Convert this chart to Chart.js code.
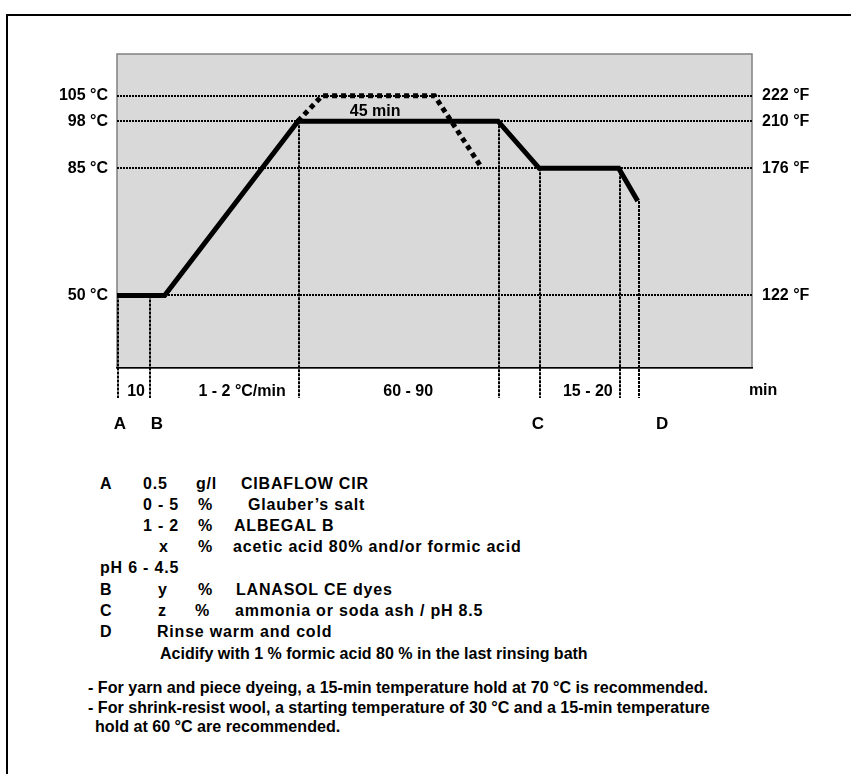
<!DOCTYPE html>
<html>
<head>
<meta charset="utf-8">
<script src="https://cdn.jsdelivr.net/npm/chart.js@4.4.0/dist/chart.umd.min.js"></script>
<style>
  html, body { margin: 0; padding: 0; background: #fff; }
  body { width: 851px; height: 774px; position: relative; overflow: hidden;
         font-family: "Liberation Sans", Arial, sans-serif; font-weight: bold; }
  #frame { position: absolute; left: 6px; top: 14px; width: 900px; height: 800px;
           border-top: 2px solid #000; border-left: 2px solid #000; }
  #chart { position: absolute; left: 0; top: 0; }
  .t { position: absolute; font-size: 16px; line-height: 20px; white-space: pre; color: #000; }
  .wide { letter-spacing: 0.8px; }
  .narrow { font-size: 16.1px; }
</style>
</head>
<body>
<div id="frame"></div>
<canvas id="chart" width="851" height="450"></canvas>
<div id="notes"></div>
<script>
// dyeing profile, time in chart units (about minutes), temperature in °C
const timeMain = [0, 15, 57, 120, 133, 158, 164];
const tempMain = [50, 50, 98, 98, 85, 85, 76];
// alternative hold at 105 °C
const timeAlt = [57, 64.6, 100, 115];
const tempAlt = [98, 105, 105, 85];

// temperature axis
const tempTicks = [50, 85, 98, 105];
const celsiusLabels = ['50 °C', '85 °C', '98 °C', '105 °C'];
const fahrenheitLabels = ['122 °F', '176 °F', '210 °F', '222 °F'];

// dotted step markers down to the time axis
const stepTimes = [0, 10, 57, 120, 133, 158, 164];
const stepTemps = [50, 50, 98, 98, 85, 85, 76];

// labels under the time axis
const segTimes = [6, 39.4, 91.7, 148.3];
const segLabels = ['10', '1 - 2 °C/min', '60 - 90', '15 - 20'];
const phaseTimes = [0.9, 12.6, 132.6, 171.7];
const phaseLabels = ['A', 'B', 'C', 'D'];

const holdLabel = '45 min';
const holdAt = [81.3, 100.6];
const unitLabel = 'min';
const unitAt = 203.5;

const FONT = 'Liberation Sans, Arial, sans-serif';

const backdrop = {
    id: 'backdrop',
    beforeDraw(chart) {
        const {ctx, chartArea: a} = chart;
        ctx.save();
        ctx.fillStyle = '#d9d9d9';
        ctx.fillRect(a.left, a.top, a.right - a.left, a.bottom - a.top);
        ctx.strokeStyle = '#808080';
        ctx.lineWidth = 1.5;
        ctx.strokeRect(a.left, a.top, a.right - a.left, a.bottom - a.top);
        ctx.restore();
    }
};

const markers = {
    id: 'markers',
    beforeDatasetsDraw(chart) {
        const {ctx, scales: {x, y}} = chart;
        ctx.save();
        ctx.strokeStyle = '#000';
        ctx.lineWidth = 2;
        ctx.setLineDash([3, 1]);
        stepTimes.forEach((t, i) => {
            const px = Math.round(x.getPixelForValue(t)) + 1;
            ctx.beginPath();
            ctx.moveTo(px, y.getPixelForValue(stepTemps[i]));
            ctx.lineTo(px, x.top + 30);
            ctx.stroke();
        });
        ctx.restore();
    },
    afterDatasetsDraw(chart) {
        const {ctx, scales: {x, y}} = chart;
        ctx.save();
        ctx.fillStyle = '#000';
        ctx.font = 'bold 16px ' + FONT;
        ctx.textAlign = 'center';
        ctx.textBaseline = 'middle';
        ctx.fillText(holdLabel, x.getPixelForValue(holdAt[0]), y.getPixelForValue(holdAt[1]));
        ctx.fillText(unitLabel, x.getPixelForValue(unitAt), x.top + 23);
        ctx.restore();
    }
};

const font16 = {family: FONT, weight: 'bold', size: 16};

new Chart(document.getElementById('chart'), {
    type: 'line',
    data: {
        datasets: [
            {
                data: timeMain.map((t, i) => ({x: t, y: tempMain[i]})),
                borderColor: '#000', borderWidth: 5, pointRadius: 0,
                borderJoinStyle: 'miter', borderCapStyle: 'butt', tension: 0
            },
            {
                data: timeAlt.map((t, i) => ({x: t, y: tempAlt[i]})),
                borderColor: '#000', borderWidth: 5, pointRadius: 0,
                borderDash: [5, 4], borderCapStyle: 'butt', tension: 0
            }
        ]
    },
    options: {
        responsive: false,
        animation: false,
        devicePixelRatio: 1,
        layout: { padding: { top: 54, left: 0, right: 0, bottom: 0 } },
        plugins: { legend: { display: false }, tooltip: { enabled: false } },
        scales: {
            x: {
                type: 'linear', position: 'bottom', min: 0, max: 200, weight: 0,
                grid: { display: false, drawTicks: false },
                border: { display: true, color: '#000', width: 1.5 },
                afterBuildTicks: s => { s.ticks = segTimes.map(v => ({value: v})); },
                afterFit: s => { s.height = 40; },
                ticks: { autoSkip: false, maxRotation: 0, padding: 14, color: '#000', font: font16,
                         callback: (v, i) => segLabels[i] }
            },
            x2: {
                type: 'linear', position: 'bottom', min: 0, max: 200, weight: 1,
                grid: { display: false, drawTicks: false },
                border: { display: false },
                afterBuildTicks: s => { s.ticks = phaseTimes.map(v => ({value: v})); },
                afterFit: s => { s.height = 42; },
                ticks: { autoSkip: false, maxRotation: 0, padding: 6, color: '#000',
                         font: {family: FONT, weight: 'bold', size: 17},
                         callback: (v, i) => phaseLabels[i] }
            },
            y: {
                type: 'linear', position: 'left', min: 30, max: 116.5,
                grid: { color: '#000', lineWidth: 2, drawTicks: false },
                border: { display: false, dash: [2, 1] },
                afterBuildTicks: s => { s.ticks = tempTicks.map(v => ({value: v})); },
                afterFit: s => { s.width = 117; },
                ticks: { padding: 9, color: '#000', font: font16,
                         callback: (v, i) => celsiusLabels[i] }
            },
            y2: {
                type: 'linear', position: 'right', min: 30, max: 116.5,
                grid: { display: false, drawTicks: false },
                border: { display: false },
                afterBuildTicks: s => { s.ticks = tempTicks.map(v => ({value: v})); },
                afterFit: s => { s.width = 99; },
                ticks: { padding: 10, color: '#000', font: font16,
                         callback: (v, i) => fahrenheitLabels[i] }
            }
        }
    },
    plugins: [backdrop, markers]
});

// recipe notes under the chart
const noteRows = [
    [485, [[100, 'A'], [143, '0.5'], [196, 'g/l'], [241, 'CIBAFLOW CIR']], 'wide'],
    [506, [[143, '0 - 5'], [198, '%'], [248, 'Glauber’s salt']], 'wide'],
    [527, [[143, '1 - 2'], [198, '%'], [234, 'ALBEGAL B']], 'wide'],
    [548, [[159, 'x'], [198, '%'], [233, 'acetic acid 80% and/or formic acid']], 'wide'],
    [569, [[100, 'pH 6 - 4.5']], 'wide'],
    [591, [[100, 'B'], [158, 'y'], [198, '%'], [236, 'LANASOL CE dyes']], 'wide'],
    [612, [[100, 'C'], [158, 'z'], [195, '%'], [235, 'ammonia or soda ash / pH 8.5']], 'wide'],
    [633, [[100, 'D'], [157, 'Rinse warm and cold']], 'wide'],
    [655, [[160, 'Acidify with 1 % formic acid 80 % in the last rinsing bath']], ''],
    [688, [[88, '- For yarn and piece dyeing, a 15-min temperature hold at 70 °C is recommended.']], 'narrow'],
    [708, [[88, '- For shrink-resist wool, a starting temperature of 30 °C and a 15-min temperature']], 'narrow'],
    [727, [[95, 'hold at 60 °C are recommended.']], 'narrow']
];
const notes = document.getElementById('notes');
noteRows.forEach(([cy, cells, cls]) => {
    cells.forEach(([left, text]) => {
        const d = document.createElement('div');
        d.className = 't ' + cls;
        d.style.left = left + 'px';
        d.style.top = (cy - 11) + 'px';
        d.textContent = text;
        notes.appendChild(d);
    });
});
</script>
</body>
</html>
